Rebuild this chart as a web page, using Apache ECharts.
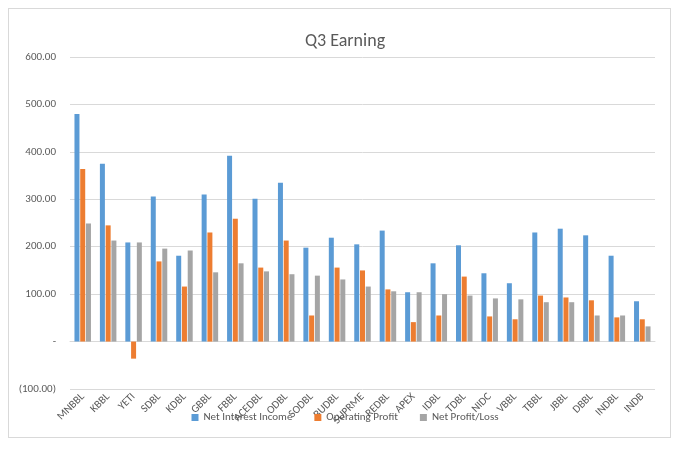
<!DOCTYPE html>
<html>
<head>
<meta charset="utf-8">
<script src="https://cdn.jsdelivr.net/npm/echarts@6/dist/echarts.min.js"></script>
<style>
  html, body { margin: 0; padding: 0; background: #fff; }
  #frame { position: absolute; left: 8px; top: 8px; width: 661px; height: 428px; border: 1px solid #d9d9d9; }
  #chart { width: 690px; height: 456px; }
</style>
</head>
<body>
<div id="frame"></div>
<div id="chart"></div>
<script>
// data kuartal 3
const banks = ['MNBBL', 'KBBL', 'YETI', 'SDBL', 'KDBL', 'GBBL', 'FBBL', 'ACEDBL', 'ODBL', 'SODBL', 'BUDBL', 'SUPRME',
    'REDBL', 'APEX', 'IDBL', 'TDBL', 'NIDC', 'VBBL', 'TBBL', 'JBBL', 'DBBL', 'INDBL', 'INDB'];
const netInterest = [480, 375, 209, 306, 181, 310, 392, 301, 335, 198, 219, 205,
    234, 104, 165, 203, 144, 123, 230, 238, 224, 181, 85];
const operatingProfit = [364, 245, -36, 169, 116, 230, 259, 156, 213, 55, 156, 150,
    110, 41, 55, 137, 53, 47, 97, 93, 87, 51, 47];
const netProfit = [249, 213, 209, 196, 192, 146, 165, 148, 142, 139, 131, 116,
    106, 104, 100, 97, 91, 89, 83, 83, 55, 55, 32];

function fmt(v) {
    if (v === 0) return '-';
    const s = Math.abs(v).toFixed(2);
    return v < 0 ? '(' + s + ')' : s;
}

const chart = echarts.init(document.getElementById('chart'));
const font = 'Calibri, Carlito, "Liberation Sans", sans-serif';

const mkSeries = (name, data, color) => ({
    name: name,
    type: 'bar',
    data: data,
    barWidth: 5,
    barGap: '15%',
    itemStyle: { color: color }
});

chart.setOption({
    animation: false,
    title: {
        text: 'Q3 Earning',
        left: 'center',
        top: 27,
        textStyle: { fontFamily: font, fontSize: 18, fontWeight: 'normal', color: '#595959' }
    },
    legend: {
        top: 407,
        itemWidth: 7,
        itemHeight: 7,
        itemGap: 22,
        icon: 'rect',
        textStyle: { fontFamily: font, fontSize: 11, color: '#595959' }
    },
    grid: { left: 70, right: 35, top: 57, bottom: 67 },
    xAxis: {
        type: 'category',
        data: banks,
        axisLine: { onZero: true, lineStyle: { color: '#d9d9d9' } },
        axisTick: { show: false },
        axisLabel: { rotate: 45, interval: 0, fontFamily: font, fontSize: 11, color: '#595959', margin: 6 }
    },
    yAxis: {
        type: 'value',
        min: -100,
        max: 600,
        interval: 100,
        axisLine: { show: false },
        axisTick: { show: false },
        axisLabel: { formatter: fmt, fontFamily: font, fontSize: 11, color: '#595959', margin: 14 },
        splitLine: { lineStyle: { color: '#d9d9d9' } }
    },
    series: [
        mkSeries('Net Interest Income', netInterest, '#5b9bd5'),
        mkSeries('Operating Profit', operatingProfit, '#ed7d31'),
        mkSeries('Net Profit/Loss', netProfit, '#a5a5a5')
    ]
});
</script>
</body>
</html>
